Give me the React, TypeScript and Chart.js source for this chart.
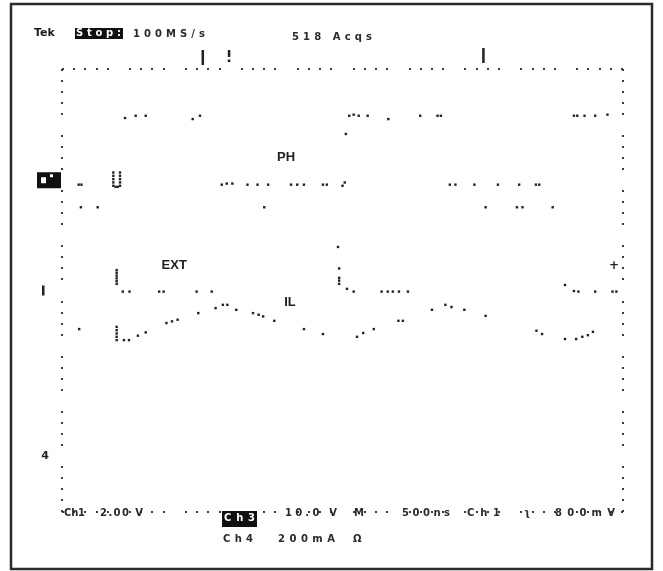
import React, { useEffect, useRef } from "react";
import { Chart, registerables } from "chart.js";

Chart.register(...registerables);

// ---- Data (x in horizontal divisions 0..10, y in vertical divisions 0..8) ----
const phX = [0.28, 0.33, 0.32, 0.62,
  0.9, 0.9, 0.9, 0.9, 0.9, 0.94, 0.98, 1.02, 1.02, 1.02, 1.02, 1.02,
  1.11, 1.3, 1.48, 2.32, 2.45,
  2.84, 2.93, 3.03, 3.3, 3.48, 3.6, 3.67, 4.08, 4.19, 4.31, 4.65, 4.72, 5.0, 5.04, 5.06, 5.12, 5.2, 5.29,
  5.45, 5.82, 6.39, 6.7, 6.76, 6.92, 7.02, 7.36, 7.56, 7.78, 8.12, 8.16, 8.22, 8.46, 8.52, 8.76, 9.14,
  9.2, 9.33, 9.52, 9.74];
const phY = [5.92, 5.92, 5.51, 5.51,
  6.14, 6.08, 6.02, 5.96, 5.9, 5.88, 5.88, 5.9, 5.96, 6.02, 6.08, 6.14,
  7.13, 7.17, 7.17, 7.11, 7.17,
  5.92, 5.94, 5.94, 5.92, 5.92, 5.51, 5.92, 5.92, 5.92, 5.92, 5.92, 5.92, 5.9, 5.96, 6.84, 7.17, 7.19, 7.17,
  7.17, 7.11, 7.17, 7.17, 7.17, 5.92, 5.92, 5.92, 5.51, 5.92, 5.51, 5.92, 5.51, 5.92, 5.92, 5.51, 7.17,
  7.17, 7.17, 7.17, 7.19];

const extX = [0.96, 0.96, 0.96, 0.96, 0.96, 0.96, 1.07, 1.19, 1.72, 1.8, 2.39, 2.66, 4.92, 4.94, 4.94, 4.94, 4.94,
  5.08, 5.2, 5.7, 5.81, 5.9, 6.01, 6.17, 8.98, 9.14, 9.22, 9.52, 9.83, 9.9];
const extY = [4.37, 4.32, 4.27, 4.22, 4.17, 4.12, 3.98, 3.98, 3.98, 3.98, 3.98, 3.98, 4.79, 4.4, 4.23, 4.18, 4.12,
  4.03, 3.98, 3.98, 3.98, 3.98, 3.98, 3.98, 4.1, 3.99, 3.98, 3.98, 3.98, 3.98];

const ilX = [0.29, 0.96, 0.96, 0.96, 0.96, 0.96, 1.09, 1.18, 1.34, 1.48, 1.85, 1.95, 2.05, 2.42, 2.73, 2.86, 2.94,
  3.1, 3.4, 3.5, 3.58, 3.78, 4.31, 4.65, 5.26, 5.37, 5.56, 6.0, 6.08, 6.6, 6.84, 6.95, 7.18, 7.56, 8.47,
  8.57, 8.98, 9.18, 9.29, 9.39, 9.48];
const ilY = [3.3, 3.34, 3.28, 3.22, 3.16, 3.1, 3.1, 3.1, 3.18, 3.24, 3.41, 3.44, 3.47, 3.59, 3.68, 3.74, 3.74,
  3.65, 3.59, 3.56, 3.53, 3.45, 3.3, 3.21, 3.16, 3.23, 3.3, 3.45, 3.45, 3.65, 3.74, 3.7, 3.65, 3.54, 3.27,
  3.21, 3.12, 3.12, 3.16, 3.19, 3.25];

const traceLabels = ["PH", "EXT", "IL"];
const traceLabelX = [3.99, 1.99, 4.06];
const traceLabelY = [6.41, 4.46, 3.79];

const groundLevels = [6, 4, 1]; // Ch1, Ch2, Ch4 reference markers
const triggerLevel = [4.45];
const topMarkers = [2.5, 2.97, 7.52];

const headerTexts = ["Tek", "Stop:", "100MS/s", "518 Acqs"];
const footerRow1 = ["Ch1", "2.00 V", "Ch3", "10.0 V", "M", "500ns", "Ch1", "ʅ", "800mV"];
const footerRow2 = ["Ch4", "200mA", "Ω"];

const X_DIVS = 10;
const Y_DIVS = 8;

function spaced(ctx: CanvasRenderingContext2D, text: string, x0: number, x1: number, yc: number) {
  const chars = Array.from(text);
  const widths = chars.map((c) => ctx.measureText(c).width);
  const total = widths.reduce((a, b) => a + b, 0);
  const gap = chars.length > 1 ? (x1 - x0 - total) / (chars.length - 1) : 0;
  let x = x0;
  ctx.textAlign = "left";
  ctx.textBaseline = "middle";
  chars.forEach((c, i) => {
    ctx.fillText(c, x, yc);
    x += widths[i] + gap;
  });
}

const scopeDecor = {
  id: "scopeDecor",
  beforeDraw(chart: any) {
    const { ctx, width, height } = chart;
    ctx.save();
    ctx.fillStyle = "#ffffff";
    ctx.fillRect(0, 0, width, height);
    ctx.restore();
  },
  afterDraw(chart: any) {
    const { ctx } = chart;
    const xs = chart.scales.x;
    const ys = chart.scales.y;
    const area = chart.chartArea;
    ctx.save();

    // outer frame
    ctx.strokeStyle = "#2b2b2b";
    ctx.lineWidth = 2.5;
    ctx.strokeRect(11, 4, 641, 565);

    const smallFont = 'bold 10px "DejaVu Sans", sans-serif';

    // header
    ctx.fillStyle = "#1a1a1a";
    ctx.font = 'bold 11px "DejaVu Sans", sans-serif';
    ctx.textAlign = "left";
    ctx.textBaseline = "middle";
    ctx.fillText(headerTexts[0], 34, 33);
    ctx.fillStyle = "#111";
    ctx.fillRect(75, 28, 48, 11);
    ctx.fillStyle = "#fff";
    ctx.font = smallFont;
    spaced(ctx, headerTexts[1], 76, 121, 33.5);
    ctx.fillStyle = "#2a2a2a";
    ctx.font = smallFont;
    spaced(ctx, headerTexts[2], 133, 205, 34);
    spaced(ctx, headerTexts[3], 292, 372, 37);

    // footer row 1
    const r1 = 513;
    spaced(ctx, footerRow1[0], 64, 85, r1);
    spaced(ctx, footerRow1[1], 100, 143, r1);
    ctx.fillStyle = "#111";
    ctx.fillRect(222, 511, 35, 16);
    ctx.fillStyle = "#fff";
    spaced(ctx, footerRow1[2], 224, 255, 518);
    ctx.fillStyle = "#2a2a2a";
    spaced(ctx, footerRow1[3], 285, 337, r1);
    spaced(ctx, footerRow1[4], 354, 366, r1);
    spaced(ctx, footerRow1[5], 402, 450, r1);
    spaced(ctx, footerRow1[6], 467, 500, r1);
    spaced(ctx, footerRow1[7], 524, 533, r1);
    spaced(ctx, footerRow1[8], 555, 615, r1);
    // footer row 2
    const r2 = 539;
    spaced(ctx, footerRow2[0], 223, 253, r2);
    spaced(ctx, footerRow2[1], 278, 335, r2);
    spaced(ctx, footerRow2[2], 353, 362, r2);

    // ground markers on the left
    const g1 = ys.getPixelForValue(groundLevels[0]);
    ctx.fillStyle = "#111";
    ctx.fillRect(37, g1 - 8, 24, 16);
    ctx.fillStyle = "#fff";
    ctx.fillRect(41, g1 - 3, 5, 6);
    ctx.fillRect(50, g1 - 6, 3, 3);
    const g2 = ys.getPixelForValue(groundLevels[1]);
    ctx.fillStyle = "#222";
    ctx.fillRect(42, g2 - 5, 2.5, 10);
    const g4 = ys.getPixelForValue(groundLevels[2]);
    ctx.font = 'bold 11px "DejaVu Sans", sans-serif';
    ctx.textAlign = "center";
    ctx.textBaseline = "middle";
    ctx.fillText("4", 45, g4);

    // trigger level marker on the right
    const tl = ys.getPixelForValue(triggerLevel[0]);
    ctx.font = 'bold 12px "DejaVu Sans", sans-serif';
    ctx.fillText("+", area.right - 8, tl);

    // top markers
    ctx.fillStyle = "#222";
    const m0 = xs.getPixelForValue(topMarkers[0]);
    ctx.fillRect(m0 - 1.2, 50, 2.5, 15);
    const m1 = xs.getPixelForValue(topMarkers[1]);
    ctx.fillRect(m1 - 1.2, 50, 2.5, 7);
    ctx.fillRect(m1 - 1.2, 59.5, 2.5, 2.5);
    const m2 = xs.getPixelForValue(topMarkers[2]);
    ctx.fillRect(m2 - 1.2, 48, 2.5, 15);

    // trace labels
    ctx.fillStyle = "#222";
    ctx.font = 'bold 13px "Liberation Sans", Arial, sans-serif';
    ctx.textAlign = "center";
    ctx.textBaseline = "middle";
    traceLabels.forEach((t, i) => {
      ctx.fillText(t, xs.getPixelForValue(traceLabelX[i]), ys.getPixelForValue(traceLabelY[i]));
    });

    ctx.restore();
  },
};

function frameAxis(position: string, axis: string, max: number) {
  return {
    type: "linear",
    position,
    axis,
    min: 0,
    max,
    ticks: { display: false, stepSize: 0.2, autoSkip: false, maxTicksLimit: 1000 },
    grid: {
      display: true,
      drawOnChartArea: false,
      drawTicks: true,
      tickLength: 2,
      lineWidth: 2,
      color: (c: any) => {
        const v = c.tick ? c.tick.value : 0;
        const r = Math.round(v);
        if (Math.abs(v - r) < 1e-6 && r > 0 && r < max) return "rgba(0,0,0,0)";
        return "#3a3a3a";
      },
    },
    border: { display: false },
  };
}

function toPoints(xs: number[], ys: number[]) {
  return xs.map((x, i) => ({ x, y: ys[i] }));
}

export default function App() {
  const ref = useRef<HTMLCanvasElement | null>(null);
  useEffect(() => {
    if (!ref.current) return;
    const pointStyle = {
      showLine: false,
      pointStyle: "rect",
      pointRadius: 1.7,
      pointBorderWidth: 0,
      pointBackgroundColor: "#222",
      pointBorderColor: "#222",
    };
    const chart = new Chart(ref.current, {
      type: "scatter",
      data: {
        datasets: [
          { label: traceLabels[0], data: toPoints(phX, phY), ...pointStyle },
          { label: traceLabels[1], data: toPoints(extX, extY), ...pointStyle },
          { label: traceLabels[2], data: toPoints(ilX, ilY), ...pointStyle },
        ],
      } as any,
      options: {
        responsive: false,
        maintainAspectRatio: false,
        animation: false,
        devicePixelRatio: 1,
        layout: { padding: { left: 61, top: 68, right: 39, bottom: 58 } },
        plugins: { legend: { display: false }, tooltip: { enabled: false } },
        events: [],
        scales: {
          x: frameAxis("bottom", "x", X_DIVS),
          x2: frameAxis("top", "x", X_DIVS),
          y: frameAxis("left", "y", Y_DIVS),
          y2: frameAxis("right", "y", Y_DIVS),
        },
      } as any,
      plugins: [scopeDecor],
    });
    return () => chart.destroy();
  }, []);
  return (
    <div style={{ position: "fixed", left: 0, top: 0, width: 663, height: 571, background: "#fff" }}>
      <canvas ref={ref} width={663} height={571} style={{ display: "block", width: 663, height: 571 }} />
    </div>
  );
}
